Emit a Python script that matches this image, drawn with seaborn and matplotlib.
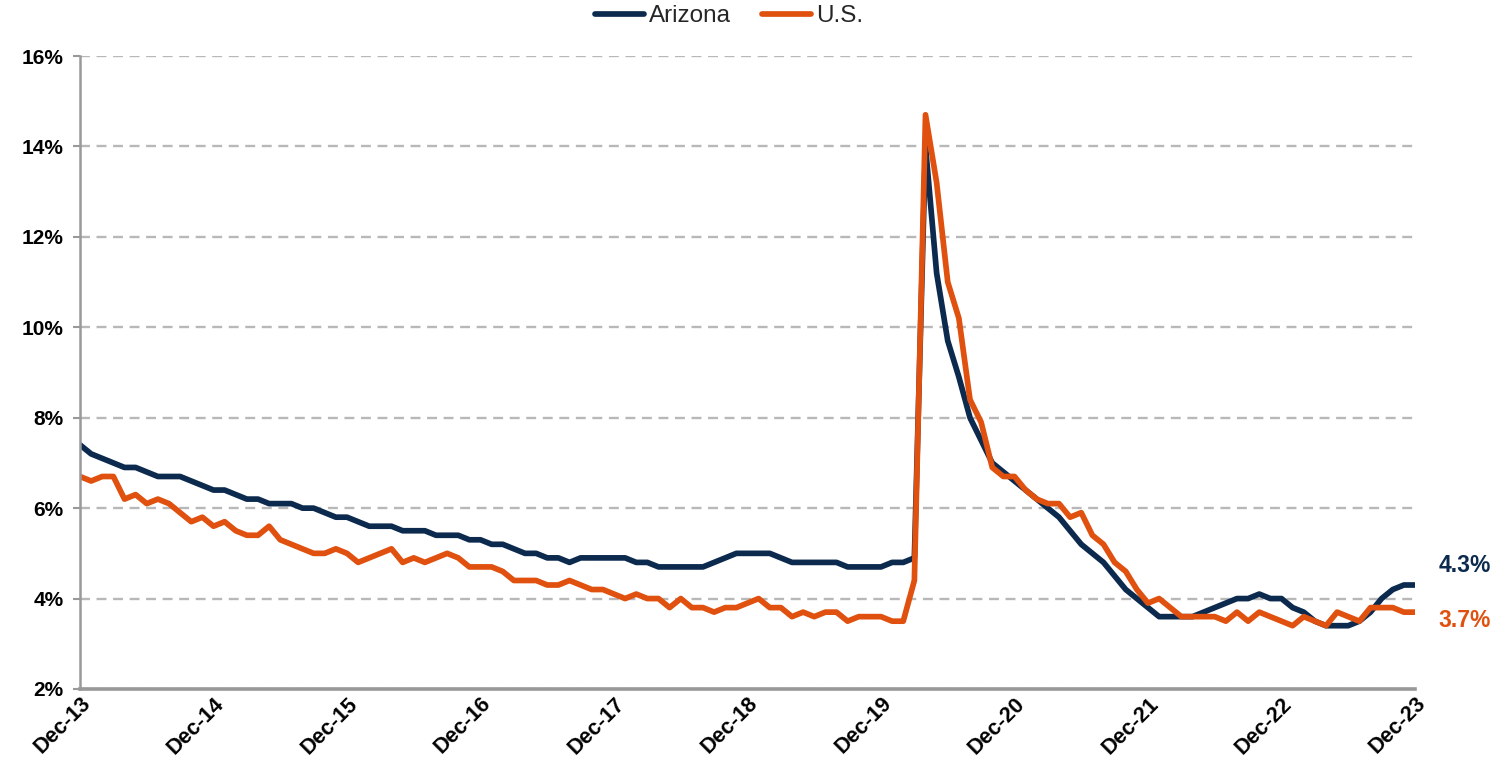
import matplotlib
matplotlib.use("Agg")
import matplotlib.pyplot as plt
from matplotlib.lines import Line2D
import seaborn as sns
import pandas as pd

# ---------------- data ----------------
tick_labels = ["Dec-13", "Dec-14", "Dec-15", "Dec-16", "Dec-17", "Dec-18",
               "Dec-19", "Dec-20", "Dec-21", "Dec-22", "Dec-23"]
series_names = ["Arizona", "U.S."]

arizona = [
    7.4, 7.2, 7.1, 7.0, 6.9, 6.9, 6.8, 6.7, 6.7, 6.7, 6.6, 6.5,
    6.4, 6.4, 6.3, 6.2, 6.2, 6.1, 6.1, 6.1, 6.0, 6.0, 5.9, 5.8,
    5.8, 5.7, 5.6, 5.6, 5.6, 5.5, 5.5, 5.5, 5.4, 5.4, 5.4, 5.3,
    5.3, 5.2, 5.2, 5.1, 5.0, 5.0, 4.9, 4.9, 4.8, 4.9, 4.9, 4.9,
    4.9, 4.9, 4.8, 4.8, 4.7, 4.7, 4.7, 4.7, 4.7, 4.8, 4.9, 5.0,
    5.0, 5.0, 5.0, 4.9, 4.8, 4.8, 4.8, 4.8, 4.8, 4.7, 4.7, 4.7,
    4.7, 4.8, 4.8, 4.9, 14.0, 11.2, 9.7, 8.9, 8.0, 7.5, 7.0, 6.8,
    6.6, 6.4, 6.2, 6.0, 5.8, 5.5, 5.2, 5.0, 4.8, 4.5, 4.2, 4.0,
    3.8, 3.6, 3.6, 3.6, 3.6, 3.7, 3.8, 3.9, 4.0, 4.0, 4.1, 4.0,
    4.0, 3.8, 3.7, 3.5, 3.4, 3.4, 3.4, 3.5, 3.7, 4.0, 4.2, 4.3, 4.3,
]
us = [
    6.7, 6.6, 6.7, 6.7, 6.2, 6.3, 6.1, 6.2, 6.1, 5.9, 5.7, 5.8,
    5.6, 5.7, 5.5, 5.4, 5.4, 5.6, 5.3, 5.2, 5.1, 5.0, 5.0, 5.1,
    5.0, 4.8, 4.9, 5.0, 5.1, 4.8, 4.9, 4.8, 4.9, 5.0, 4.9, 4.7,
    4.7, 4.7, 4.6, 4.4, 4.4, 4.4, 4.3, 4.3, 4.4, 4.3, 4.2, 4.2,
    4.1, 4.0, 4.1, 4.0, 4.0, 3.8, 4.0, 3.8, 3.8, 3.7, 3.8, 3.8,
    3.9, 4.0, 3.8, 3.8, 3.6, 3.7, 3.6, 3.7, 3.7, 3.5, 3.6, 3.6,
    3.6, 3.5, 3.5, 4.4, 14.7, 13.2, 11.0, 10.2, 8.4, 7.9, 6.9, 6.7,
    6.7, 6.4, 6.2, 6.1, 6.1, 5.8, 5.9, 5.4, 5.2, 4.8, 4.6, 4.2,
    3.9, 4.0, 3.8, 3.6, 3.6, 3.6, 3.6, 3.5, 3.7, 3.5, 3.7, 3.6,
    3.5, 3.4, 3.6, 3.5, 3.4, 3.7, 3.6, 3.5, 3.8, 3.8, 3.8, 3.7, 3.7,
]
y_ticks = [2, 4, 6, 8, 10, 12, 14, 16]

# ---------------- style ----------------
colors = {"Arizona": "#0C2A4E", "U.S.": "#E0500F"}
grid_color = "#B8B8B8"
spine_color = "#999999"

n = len(arizona)
months = list(range(n))
df = pd.DataFrame({
    "month": months * 2,
    "rate": arizona + us,
    "series": [series_names[0]] * n + [series_names[1]] * n,
})

sns.set_theme(style="white")
plt.rcParams["font.family"] = ["Liberation Sans", "DejaVu Sans"]

W, H = 1496, 775
fig = plt.figure(figsize=(W / 100, H / 100), dpi=100)
ax = fig.add_axes([80 / W, 1 - 689 / H, (1415 - 80) / W, (689 - 56) / H])

ax.set_axisbelow(True)
ax.yaxis.grid(True, color=grid_color, linewidth=1.7, linestyle=(0, (4.2, 2.8)))
ax.xaxis.grid(False)

sns.lineplot(data=df, x="month", y="rate", hue="series",
             hue_order=series_names, palette=colors,
             linewidth=4.1, ax=ax, legend=False)

ax.set_xlim(0, n - 1)
ax.set_ylim(2, 16)
ax.set_yticks(y_ticks)
ax.set_yticklabels([f"{v}%" for v in y_ticks])
ax.set_xticks(list(range(0, n, 12)))
ax.set_xticklabels(tick_labels)
ax.set_xlabel("")
ax.set_ylabel("")

for s in ["top", "right"]:
    ax.spines[s].set_visible(False)
ax.spines["left"].set_color(spine_color)
ax.spines["left"].set_linewidth(1.8)
ax.spines["bottom"].set_color(spine_color)
ax.spines["bottom"].set_linewidth(2.6)

ax.tick_params(axis="y", which="major", left=True, length=5, width=1.5,
               color=spine_color, pad=7)
for lab in ax.get_yticklabels():
    lab.set_fontsize(15)
    lab.set_fontweight("bold")
    lab.set_color("#000000")

ax.tick_params(axis="x", which="major", bottom=False, length=0, pad=3)
for lab in ax.get_xticklabels():
    lab.set_rotation(45)
    lab.set_ha("right")
    lab.set_va("top")
    lab.set_rotation_mode("anchor")
    lab.set_fontsize(15.5)
    lab.set_fontweight("bold")
    lab.set_color("#000000")

# end-value labels
ax.annotate(f"{arizona[-1]:.1f}%", xy=(n - 1, arizona[-1]), xytext=(17, 14),
            textcoords="offset points", ha="left", va="center",
            fontsize=16.5, fontweight="bold", color=colors["Arizona"],
            annotation_clip=False)
ax.annotate(f"{us[-1]:.1f}%", xy=(n - 1, us[-1]), xytext=(17, -6),
            textcoords="offset points", ha="left", va="center",
            fontsize=16.5, fontweight="bold", color=colors["U.S."],
            annotation_clip=False)

# legend
handles = [Line2D([0], [0], color=colors[s], linewidth=4.1) for s in series_names]
fig.legend(handles, series_names, loc="center",
           bbox_to_anchor=(729 / W, 1 - 16 / H), ncol=2, frameon=False,
           handlelength=2.0, handletextpad=0.2, columnspacing=1.3,
           prop={"size": 17.5})

fig.savefig("out.png", dpi=100, facecolor="white")
